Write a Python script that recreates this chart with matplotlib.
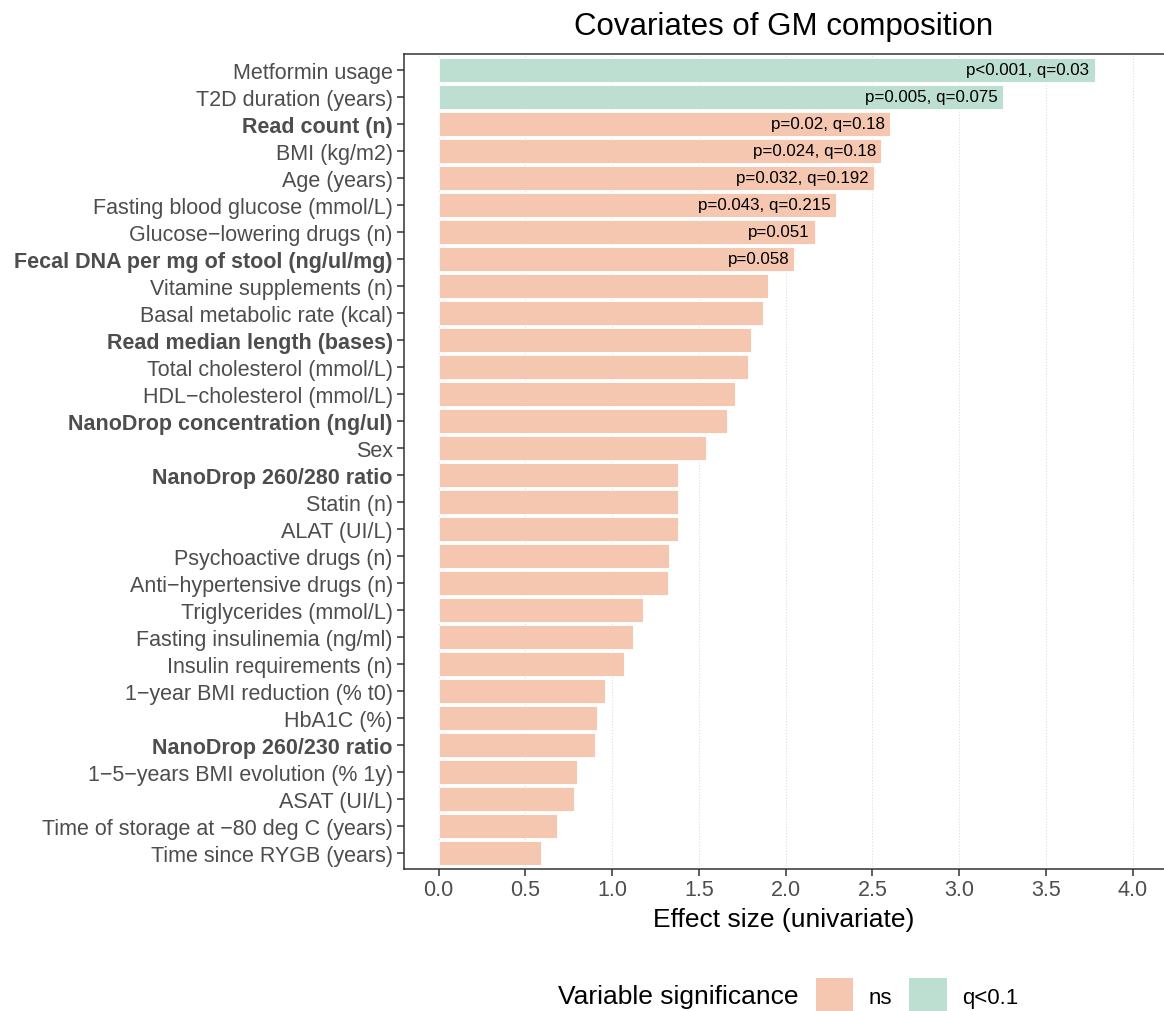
import matplotlib.pyplot as plt
from matplotlib.patches import Patch

plt.rcParams['font.family'] = ['Liberation Sans', 'DejaVu Sans']

# variables, top to bottom
variables = [
    "Metformin usage", "T2D duration (years)", "Read count (n)", "BMI (kg/m2)",
    "Age (years)", "Fasting blood glucose (mmol/L)", "Glucose\u2212lowering drugs (n)",
    "Fecal DNA per mg of stool (ng/ul/mg)", "Vitamine supplements (n)",
    "Basal metabolic rate (kcal)", "Read median length (bases)",
    "Total cholesterol (mmol/L)", "HDL\u2212cholesterol (mmol/L)",
    "NanoDrop concentration (ng/ul)", "Sex", "NanoDrop 260/280 ratio", "Statin (n)",
    "ALAT (UI/L)", "Psychoactive drugs (n)", "Anti\u2212hypertensive drugs (n)",
    "Triglycerides (mmol/L)", "Fasting insulinemia (ng/ml)", "Insulin requirements (n)",
    "1\u2212year BMI reduction (% t0)", "HbA1C (%)", "NanoDrop 260/230 ratio",
    "1\u22125\u2212years BMI evolution (% 1y)", "ASAT (UI/L)",
    "Time of storage at \u221280 deg C (years)", "Time since RYGB (years)",
]
effect_size = [3.78, 3.25, 2.60, 2.55, 2.51, 2.29, 2.17, 2.05, 1.90, 1.87,
               1.80, 1.78, 1.71, 1.66, 1.54, 1.38, 1.38, 1.38, 1.33, 1.32,
               1.18, 1.12, 1.07, 0.96, 0.91, 0.90, 0.80, 0.78, 0.68, 0.59]
significance = ["q<0.1", "q<0.1"] + ["ns"] * 28
annotations = ["p<0.001, q=0.03", "p=0.005, q=0.075", "p=0.02, q=0.18",
               "p=0.024, q=0.18", "p=0.032, q=0.192", "p=0.043, q=0.215",
               "p=0.051", "p=0.058"]
bold_vars = ["Read count (n)", "Fecal DNA per mg of stool (ng/ul/mg)",
             "Read median length (bases)", "NanoDrop concentration (ng/ul)",
             "NanoDrop 260/280 ratio", "NanoDrop 260/230 ratio"]

colors = {"ns": "#F5C6B0", "q<0.1": "#BCDFD2"}

fig = plt.figure(figsize=(11.64, 10.12), dpi=100)
ax = fig.add_axes([0.347, 0.140, 0.653, 0.806])

ypos = list(range(len(variables)))
ax.barh(ypos, effect_size, height=0.9, color=[colors[s] for s in significance],
        edgecolor="white", linewidth=0.6, zorder=2)

for i, txt in enumerate(annotations):
    ax.text(effect_size[i] - 0.03, i, txt, ha="right", va="center",
            fontsize=12.2, color="black", zorder=3)

ax.set_yticks(ypos)
ax.set_yticklabels(variables)
for lab in ax.get_yticklabels():
    if lab.get_text() in bold_vars:
        lab.set_fontweight("bold")
ax.set_ylim(len(variables) - 0.4, -0.6)
ax.set_xlim(-0.2, 4.18)
ax.set_xticks([0, 0.5, 1, 1.5, 2, 2.5, 3, 3.5, 4])
ax.set_xticklabels(["0.0", "0.5", "1.0", "1.5", "2.0", "2.5", "3.0", "3.5", "4.0"])

ax.tick_params(axis="both", labelsize=15.5, labelcolor="#4D4D4D", colors="#333333",
               length=5, width=1.1, direction="out")
ax.tick_params(axis="y", pad=3)
ax.tick_params(axis="x", pad=2)
ax.grid(axis="x", color="#DDDDDD", linestyle=":", linewidth=0.8, zorder=0)
ax.set_axisbelow(True)
for side in ["left", "top", "bottom"]:
    ax.spines[side].set_color("#333333")
    ax.spines[side].set_linewidth(1.1)
ax.spines["right"].set_visible(False)

ax.set_xlabel("Effect size (univariate)", fontsize=19, labelpad=5)
ax.set_title("Covariates of GM composition", fontsize=22.5, pad=14)

# legend at bottom, title on the left
fig.text(0.479, 0.0148, "Variable significance", fontsize=19, va="center", ha="left")
handles = [Patch(facecolor=colors["ns"], edgecolor="none", label="ns"),
           Patch(facecolor=colors["q<0.1"], edgecolor="none", label="q<0.1")]
fig.legend(handles=handles, ncol=2, loc="lower left", bbox_to_anchor=(0.701, -0.004),
           frameon=False, fontsize=16, handlelength=1.67, handleheight=2.2,
           handletextpad=0.68, columnspacing=0.8, borderpad=0, borderaxespad=0)

fig.savefig("out.png", dpi=100)
